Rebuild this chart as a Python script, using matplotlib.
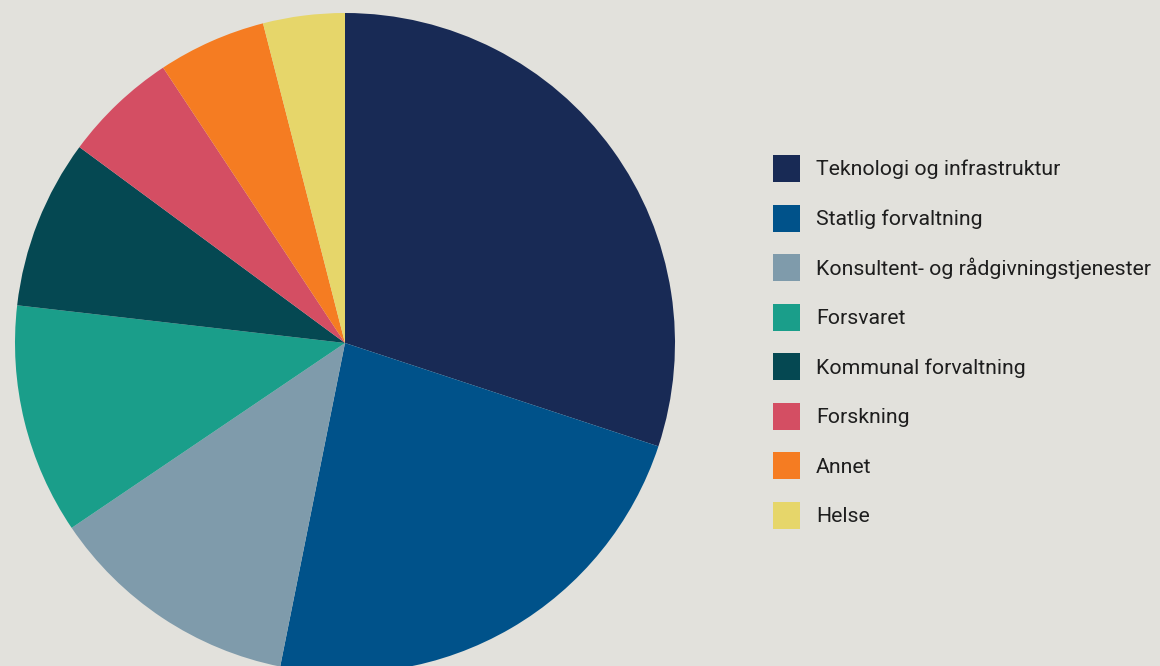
import matplotlib.pyplot as plt

# andel per sektor (lest av figuren, prosent)
labels = ['Teknologi og infrastruktur', 'Statlig forvaltning',
          'Konsultent- og rådgivningstjenester', 'Forsvaret',
          'Kommunal forvaltning', 'Forskning', 'Annet', 'Helse']
values = [30.1, 23.1, 12.4, 11.3, 8.3, 5.6, 5.3, 4.0]
colors = ['#182a55', '#00528a', '#7f9bab', '#1a9e8a',
          '#054852', '#d44e63', '#f57c22', '#e6d66a']

bg = '#e2e1dc'
plt.rcParams['font.family'] = ['Roboto', 'DejaVu Sans']

fig = plt.figure(figsize=(11.6, 6.66), dpi=100, facecolor=bg)
ax = fig.add_axes([15 / 1160, -7 / 666, 660 / 1160, 660 / 666])
ax.set_facecolor(bg)

wedges, _ = ax.pie(values, colors=colors, startangle=90, counterclock=False,
                   radius=1, wedgeprops=dict(linewidth=0))
ax.set_xlim(-1, 1)
ax.set_ylim(-1, 1)
ax.set_aspect('equal')
ax.axis('off')

fs = 15.3
fig.legend(wedges, labels, loc='upper left',
           bbox_to_anchor=(773 / 1160, 1 - 155 / 666),
           frameon=False, fontsize=fs, borderpad=0, borderaxespad=0,
           handlelength=1.27, handleheight=1.58, handletextpad=0.75,
           labelspacing=1.06, labelcolor='#1e1e1e')

fig.savefig('out.png', dpi=100, facecolor=bg)
